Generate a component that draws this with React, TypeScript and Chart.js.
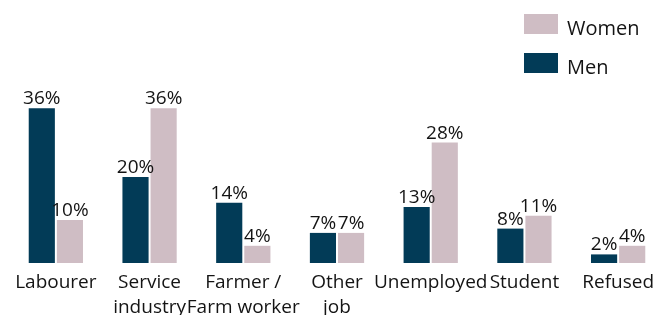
import React, { useEffect, useRef } from "react";
import { Chart, registerables } from "chart.js";

Chart.register(...registerables);

const categories: (string | string[])[] = [
  "Labourer",
  ["Service", "industry"],
  ["Farmer /", "Farm worker"],
  ["Other", "job"],
  "Unemployed",
  "Student",
  "Refused",
];
const menValues = [36, 20, 14, 7, 13, 8, 2];
const womenValues = [10, 36, 4, 7, 28, 11, 4];

const MEN_COLOR = "#023b57";
const WOMEN_COLOR = "#cfbdc4";
const TEXT_COLOR = "#141414";
const FONT = "'Open Sans', sans-serif";

const valueLabels = {
  id: "valueLabels",
  afterDatasetsDraw(chart: any) {
    const ctx = chart.ctx;
    ctx.save();
    ctx.font = `19px ${FONT}`;
    ctx.fillStyle = TEXT_COLOR;
    ctx.textAlign = "center";
    ctx.textBaseline = "alphabetic";
    chart.data.datasets.forEach((ds: any, i: number) => {
      const meta = chart.getDatasetMeta(i);
      meta.data.forEach((el: any, j: number) => {
        ctx.fillText(`${ds.data[j]}%`, el.x, el.y - 4);
      });
    });
    ctx.restore();
  },
};

const customLegend = {
  id: "customLegend",
  afterDraw(chart: any) {
    const ctx = chart.ctx;
    ctx.save();
    ctx.font = `20px ${FONT}`;
    ctx.textAlign = "left";
    ctx.textBaseline = "alphabetic";
    const items = [...chart.data.datasets].reverse();
    items.forEach((ds: any, i: number) => {
      const y = 14 + i * 39;
      ctx.fillStyle = ds.backgroundColor;
      ctx.fillRect(524, y, 34, 20);
      ctx.fillStyle = TEXT_COLOR;
      ctx.fillText(ds.label, 567, y + 21);
    });
    ctx.restore();
  },
};

export default function App() {
  const ref = useRef<HTMLCanvasElement>(null);
  useEffect(() => {
    if (!ref.current) return;
    const chart = new Chart(ref.current, {
      type: "bar",
      data: {
        labels: categories,
        datasets: [
          {
            label: "Men",
            data: menValues,
            backgroundColor: MEN_COLOR,
            categoryPercentage: 0.6,
            barPercentage: 0.93,
          },
          {
            label: "Women",
            data: womenValues,
            backgroundColor: WOMEN_COLOR,
            categoryPercentage: 0.6,
            barPercentage: 0.93,
          },
        ],
      },
      options: {
        animation: false,
        responsive: false,
        maintainAspectRatio: false,
        layout: { padding: { left: 9, right: 7, top: 48, bottom: 0 } },
        plugins: { legend: { display: false }, tooltip: { enabled: false } },
        scales: {
          y: { display: false, min: 0, max: 50 },
          x: {
            grid: { display: false, drawTicks: false },
            border: { display: false },
            ticks: {
              color: TEXT_COLOR,
              padding: 7,
              maxRotation: 0,
              autoSkip: false,
              font: { family: FONT, size: 19, lineHeight: 25 / 19 },
            },
            afterFit(scale: any) {
              scale.height = 52;
            },
          },
        },
      },
      plugins: [valueLabels, customLegend],
    });
    return () => chart.destroy();
  }, []);
  return (
    <div style={{ position: "absolute", left: 0, top: 0, width: 672, height: 315, background: "#fff" }}>
      <canvas ref={ref} width={672} height={315} />
    </div>
  );
}
